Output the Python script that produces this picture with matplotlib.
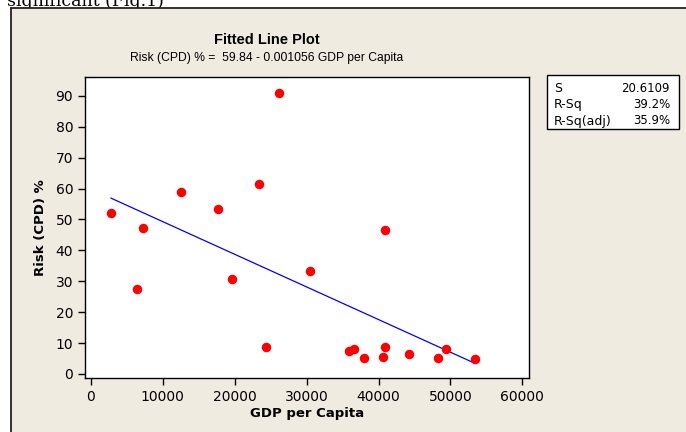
import numpy as np
import matplotlib.pyplot as plt
from matplotlib.patches import Rectangle

# Daten
gdp = [2780, 7280, 12520, 17620, 23370, 26150, 40850, 6400, 19610, 30460,
       24390, 35880, 36540, 38020, 40610, 40850, 44270, 48260, 49420, 53370]
risk = [52.0, 47.3, 58.9, 53.5, 61.5, 90.8, 46.5, 27.6, 30.8, 33.4,
        8.7, 7.3, 8.0, 5.2, 5.5, 8.7, 6.6, 5.2, 8.0, 4.7]
intercept = 59.84
slope = -0.001056
stat_names = ['S', 'R-Sq', 'R-Sq(adj)']
stat_values = ['20.6109', '39.2%', '35.9%']

bg = '#efebe1'
W, H = 686, 432
plt.rcParams['font.family'] = ['DejaVu Sans']
fig = plt.figure(figsize=(6.86, 4.32), dpi=100, facecolor='white')

# abgeschnittener Text der Seite oben, wird vom Grafikrahmen verdeckt
fig.text(7/W, 1 - 6/H, 'significant (Fig.1)', family='DejaVu Serif',
         fontsize=12.5, va='baseline', ha='left', zorder=-1)

# beiger Grafikbereich mit Rahmen links und oben
fig.add_artist(Rectangle((11/W, 0), 1, 1 - 8/H, facecolor=bg, edgecolor='none',
                         transform=fig.transFigure, zorder=0.5))
fig.add_artist(plt.Line2D([11/W, 11/W], [0, 1 - 8/H], color='#222222', lw=1.3,
                          transform=fig.transFigure, zorder=1))
fig.add_artist(plt.Line2D([11/W, 1], [1 - 8/H, 1 - 8/H], color='#222222', lw=1.3,
                          transform=fig.transFigure, zorder=1))

ax = fig.add_axes([85/W, 54/H, 444/W, 301/H])
ax.set_zorder(2)
ax.set_facecolor('white')
ax.patch.set_alpha(1)
ax.scatter(gdp, risk, s=34, color='red', zorder=3)
xs = np.array([min(gdp), max(gdp)])
ax.plot(xs, intercept + slope * xs, color='blue', lw=0.9)

ax.set_xlim(-830, 60920)
ax.set_ylim(-1.3, 96.1)
ax.set_xticks(range(0, 60001, 10000))
ax.set_yticks(range(0, 91, 10))
ax.tick_params(direction='out', length=5, width=1, labelsize=10, colors='black')
for sp in ax.spines.values():
    sp.set_linewidth(1)
ax.set_xlabel('GDP per Capita', fontsize=9.5, fontweight='bold', labelpad=2)
ax.set_ylabel('Risk (CPD) %', fontsize=9.5, fontweight='bold', labelpad=6)

fig.text(267/W, 1 - 40/H, 'Fitted Line Plot', family='Liberation Sans', fontsize=10.5,
         fontweight='bold', ha='center', va='center', zorder=3)
fig.text(267/W, 1 - 58/H, 'Risk (CPD) % =  59.84 - 0.001056 GDP per Capita',
         family='Liberation Sans', fontsize=8.7, ha='center', va='center', zorder=3)

# Statistik-Kasten
fig.add_artist(Rectangle((547/W, 1 - 129/H), 132/W, 54/H, facecolor='white',
                         edgecolor='black', lw=1, transform=fig.transFigure, zorder=2))
for i, (n, v) in enumerate(zip(stat_names, stat_values)):
    y = 1 - (88 + i * 16.5) / H
    fig.text(554/W, y, n, fontsize=9, ha='left', va='center', zorder=3)
    fig.text(670/W, y, v, fontsize=8.5, ha='right', va='center', zorder=3)

plt.savefig('out.png', dpi=100, facecolor='white')
